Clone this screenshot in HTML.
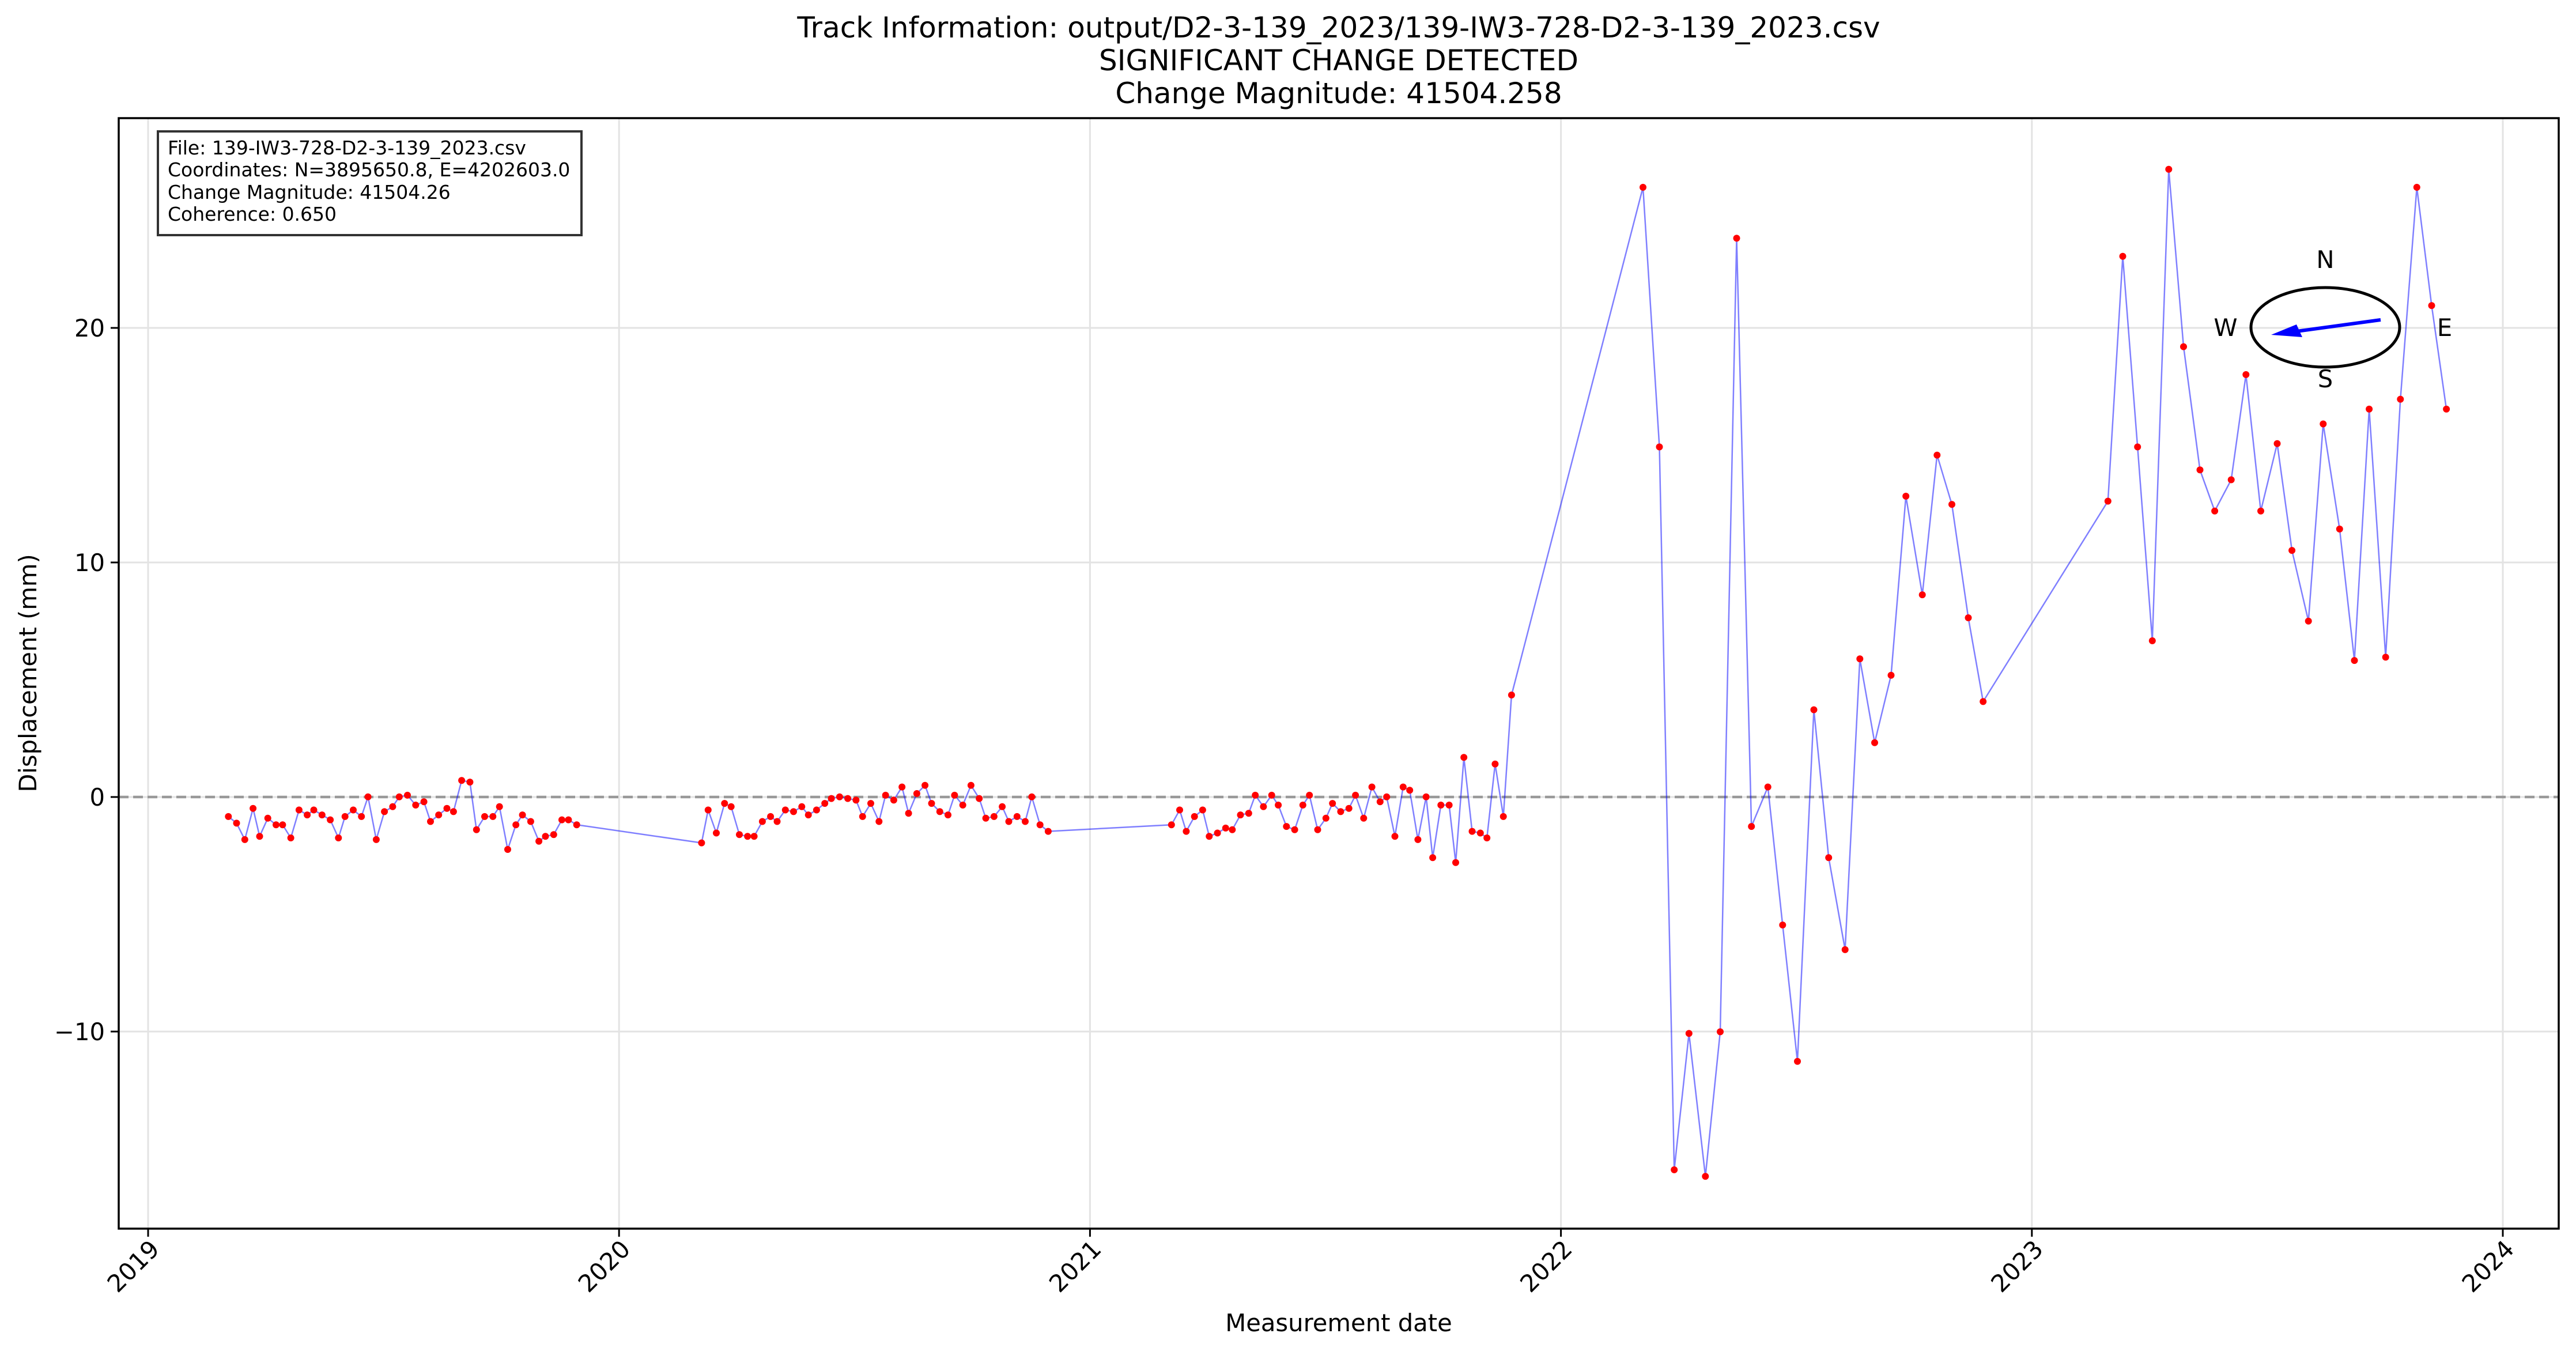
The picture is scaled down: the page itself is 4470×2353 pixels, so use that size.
<!DOCTYPE html>
<html><head><meta charset="utf-8">
<style>html,body{margin:0;padding:0;background:#fff;}svg{display:block;}</style>
</head><body>
<svg id="s" xmlns="http://www.w3.org/2000/svg" width="4470" height="2353" viewBox="0 0 4470 2353" font-family="'DejaVu Sans','Liberation Sans',sans-serif">
<rect width="4470" height="2353" fill="#fff"/>
<g id="grid" stroke="#e3e3e3" stroke-width="3"></g>
<line x1="206" x2="4440" y1="1383" y2="1383" stroke="#999" stroke-width="4.5" stroke-dasharray="17,8"/>
<g id="series"></g>
<rect x="206" y="205" width="4234" height="1927" fill="none" stroke="#000" stroke-width="3.5"/>
<g id="ticks" stroke="#000" stroke-width="3"></g>
<g id="labels" font-size="41.7" fill="#000"></g>
<rect x="274" y="228" width="735" height="180" fill="#fff" stroke="#333" stroke-width="4"/>
<g font-size="33" fill="#000">
<text x="291" y="268">File: 139-IW3-728-D2-3-139_2023.csv</text>
<text x="291" y="306">Coordinates: N=3895650.8, E=4202603.0</text>
<text x="291" y="345">Change Magnitude: 41504.26</text>
<text x="291" y="383">Coherence: 0.650</text>
</g>
<ellipse cx="4035" cy="568" rx="129" ry="69" fill="none" stroke="#000" stroke-width="5"/>
<line x1="4131" y1="555" x2="3985" y2="575" stroke="#0000ff" stroke-width="6"/>
<polygon points="3941,581 3985,563 3995,585" fill="#0000ff"/>
<g font-size="41.7" fill="#000" text-anchor="middle">
<text x="4035" y="465">N</text>
<text x="4035" y="672">S</text>
<text x="3862" y="583">W</text>
<text x="4242" y="583">E</text>
</g>
<g font-size="50" fill="#000" text-anchor="middle">
<text x="2323" y="65">Track Information: output/D2-3-139_2023/139-IW3-728-D2-3-139_2023.csv</text>
<text x="2323" y="122">SIGNIFICANT CHANGE DETECTED</text>
<text x="2323" y="179">Change Magnitude: 41504.258</text>
</g>
<text x="2323" y="2310" font-size="41.7" text-anchor="middle">Measurement date</text>
<text transform="translate(63,1168) rotate(-90)" font-size="41.7" text-anchor="middle">Displacement (mm)</text>
</svg>
<script>
var NS="http://www.w3.org/2000/svg";
function el(p,t,a){var e=document.createElementNS(NS,t);for(var k in a)e.setAttribute(k,a[k]);p.appendChild(e);return e;}
var grid=document.getElementById('grid'),ticks=document.getElementById('ticks'),labels=document.getElementById('labels');
var years=[2019,2020,2021,2022,2023,2024];
var x0=257,dx=817.2;
years.forEach(function(y,i){var x=x0+i*dx;
 el(grid,'line',{x1:x,x2:x,y1:205,y2:2132});
 el(ticks,'line',{x1:x,x2:x,y1:2132,y2:2146});
 var t=el(labels,'text',{x:x+22,y:2170,'text-anchor':'end',transform:'rotate(-45 '+(x+22)+' 2170)'});t.textContent=y;
});
[[-10,'\u221210'],[0,'0'],[10,'10'],[20,'20']].forEach(function(v){var y=1383-40.7*v[0];
 el(grid,'line',{x1:206,x2:4440,y1:y,y2:y});
 el(ticks,'line',{x1:192,x2:206,y1:y,y2:y});
 var t=el(labels,'text',{x:182,y:y+15,'text-anchor':'end'});t.textContent=v[1];
});
var d=[139,497,144,501,149,511,154,492,158,509,163,498,168,502,172,502,177,510,182,493,187,496,191,493,196,496,201,499,206,510,210,497,215,493,220,497,224,485,229,511,234,494,239,491,243,485,248,484,253,490,258,488,262,500,267,496,272,492,276,494,281,475,286,476,290,505,295,497,300,497,304,491,309,517,314,502,318,496,323,500,328,512,332,509,337,508,342,499,346,499,351,502,
427,513,431,493,436,507,441,489,445,491,450,508,455,509,459,509,464,500,469,497,473,500,478,493,483,494,488,491,492,496,497,493,502,489,506,486,511,485,516,486,521,487,525,497,530,489,535,500,539,484,544,487,549,479,553,495,558,483,563,478,567,489,572,494,577,496,581,484,586,490,591,478,596,486,600,498,605,497,610,491,614,500,619,497,624,500,628,485,633,502,638,506,
713,502,718,493,722,506,727,497,732,493,736,509,741,507,746,504,750,505,755,496,760,495,764,484,769,491,774,484,778,490,783,503,788,505,793,490,797,484,802,505,807,498,811,489,816,494,821,492,825,484,830,498,835,479,840,488,844,485,849,509,854,479,858,481,863,511,868,485,872,522,877,490,882,490,886,525,891,461,896,506,901,507,905,510,910,465,915,497,920,423,
1000,114,1010,272,1019,712,1028,629,1038,716,1047,628,1057,145,1066,503,1076,479,1085,563,1094,646,1104,432,1113,522,1123,578,1132,401,1141,452,1151,411,1160,302,1170,362,1179,277,1188,307,1198,376,1207,427,
1283,305,1292,156,1301,272,1310,390,1320,103,1329,211,1339,286,1348,311,1358,292,1367,228,1376,311,1386,270,1395,335,1405,378,1414,258,1424,322,1433,402,1442,249,1452,400,1461,243,1471,114,1480,186,1489,249];
var s=2.851,pts=[];
for(var i=0;i<d.length;i+=2)pts.push((d[i]*s).toFixed(1)+','+(d[i+1]*s).toFixed(1));
var g=document.getElementById('series');
el(g,'polyline',{points:pts.join(' '),fill:'none',stroke:'#0000ff','stroke-opacity':0.5,'stroke-width':2.5,'stroke-linejoin':'round'});
pts.forEach(function(p){var a=p.split(',');el(g,'circle',{cx:a[0],cy:a[1],r:6,fill:'#ff0000'});});
</script>
</body></html>
